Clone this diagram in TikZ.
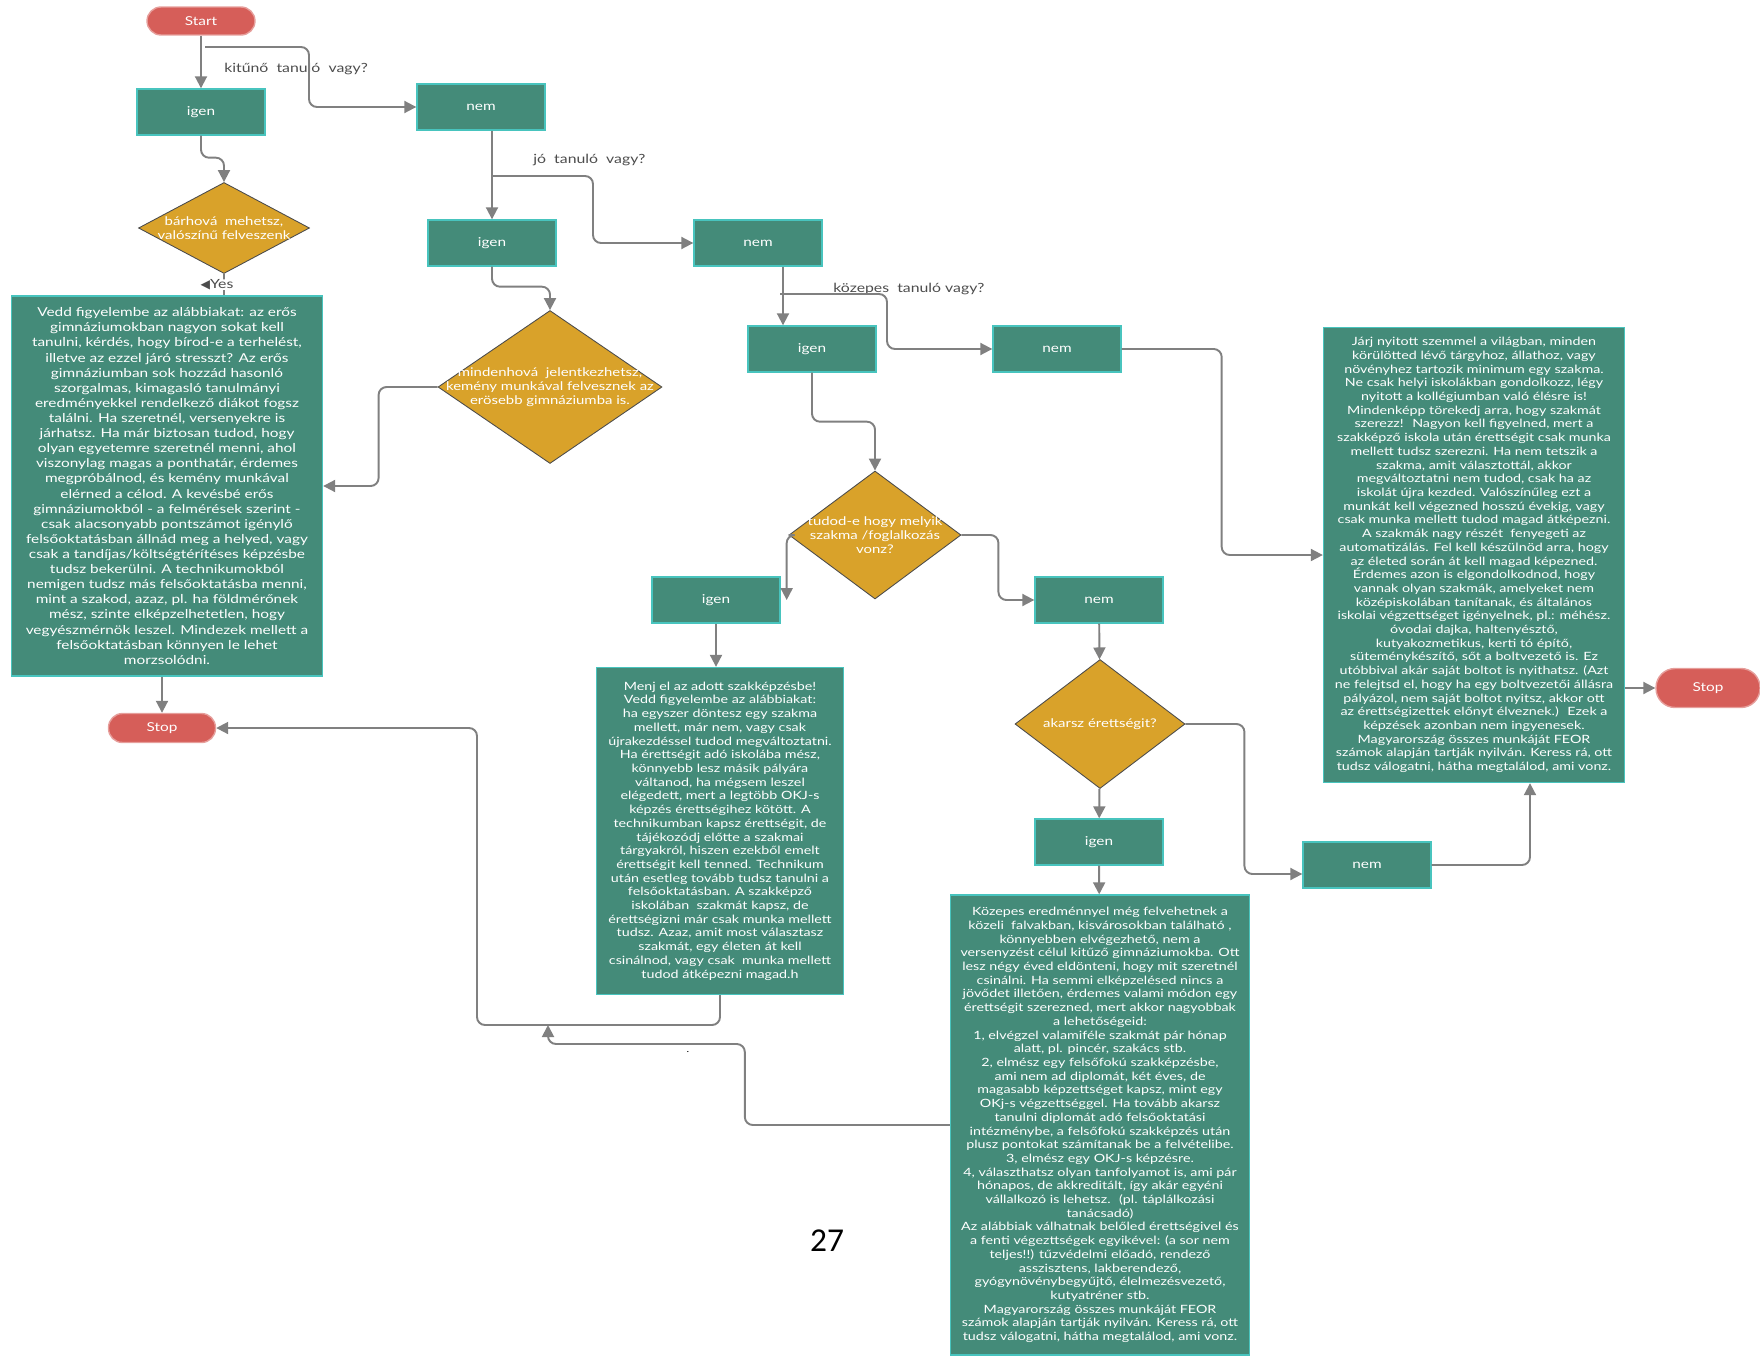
\documentclass[tikz,border=0pt]{standalone}
\usepackage{fontspec}
\setmainfont{Lato}[FakeStretch=1.25]
\newfontfamily\symbfont{DejaVu Sans}
\newfontfamily\pagefont{Carlito}
\usetikzlibrary{shapes.geometric,arrows.meta}

\definecolor{boxgreen}{RGB}{68,139,121}
\definecolor{boxedge}{RGB}{72,196,190}
\definecolor{gold}{RGB}{217,162,42}
\definecolor{stopred}{RGB}{214,94,89}
\definecolor{linegray}{RGB}{128,128,128}

\tikzset{
  answer/.style={rectangle, fill=boxgreen, draw=boxedge, line width=0.8pt,
    minimum width=2.56cm, minimum height=0.92cm, text=white,
    font=\fontsize{7}{8}\selectfont},
  infobox/.style={rectangle, fill=boxgreen, draw=boxedge, line width=0.8pt,
    text=white, align=center, inner sep=1pt, font=\fontsize{6.5}{7.8}\selectfont},
  question/.style={diamond, fill=gold, draw=black!70, line width=0.5pt, inner sep=0pt},
  qtext/.style={text=white, align=center, font=\fontsize{6.8}{7.8}\selectfont},
  terminal/.style={rectangle, rounded corners=0.28cm, fill=stopred,
    draw=stopred!60!white, line width=0.8pt, text=white,
    font=\fontsize{7}{8}\selectfont},
  arr/.style={draw=linegray, line width=1.1pt, rounded corners=0.16cm,
    -{Triangle[length=0.24cm,width=0.24cm]}},
  link/.style={draw=linegray, line width=1.1pt, rounded corners=0.16cm},
  note/.style={text=black!70, inner sep=0pt, font=\fontsize{7.2}{8}\selectfont}
}

\begin{document}
\begin{tikzpicture}[x=0.02cm,y=-0.02cm]
  \useasboundingbox (0,0) rectangle (1760,1355);

  % Start and first question
  \node[terminal, minimum width=2.16cm, minimum height=0.56cm] (start) at (201,21) {Start};
  \node[answer] (igen1) at (201,112) {igen};
  \node[answer] (nem1) at (481,107) {nem};
  \coordinate (k1) at (205,47);
  \node[note, anchor=west] (lbl1) at (224,69) {kitűnő~ tanuló~ vagy?};

  \node[question, minimum width=3.42cm, minimum height=1.82cm] (d1) at (224,228) {};
  \node[qtext] (d1t) at (d1) {bárhová~ mehetsz,\\valószínű felveszenk};

  \node[infobox, minimum width=6.22cm, minimum height=7.6cm, font=\fontsize{7}{8.6}\selectfont] (left) at (167,486)
    {Vedd figyelembe az alábbiakat: az erős\\
     gimnáziumokban nagyon sokat kell\\
     tanulni, kérdés, hogy bírod-e a terhelést,\\
     illetve az ezzel járó stresszt? Az erős\\
     gimnáziumban sok hozzád hasonló\\
     szorgalmas, kimagasló tanulmányi\\
     eredményekkel rendelkező diákot fogsz\\
     találni. Ha szeretnél, versenyekre is\\
     járhatsz. Ha már biztosan tudod, hogy\\
     olyan egyetemre szeretnél menni, ahol\\
     viszonylag magas a ponthatár, érdemes\\
     megpróbálnod, és kemény munkával\\
     elérned a célod. A kevésbé erős\\
     gimnáziumokból - a felmérések szerint -\\
     csak alacsonyabb pontszámot igénylő\\
     felsőoktatásban állnád meg a helyed, vagy\\
     csak a tandíjas/költségtérítéses képzésbe\\
     tudsz bekerülni. A technikumokból\\
     nemigen tudsz más felsőoktatásba menni,\\
     mint a szakod, azaz, pl. ha földmérőnek\\
     mész, szinte elképzelhetetlen, hogy\\
     vegyészmérnök leszel. Mindezek mellett a\\
     felsőoktatásban könnyen le lehet\\
     morzsolódni.};
  \node[terminal, minimum width=2.14cm, minimum height=0.58cm] (stop1) at (162,728) {Stop};

  % Second question
  \node[note, anchor=west] (lbl2) at (533,160) {jó~ tanuló~ vagy?};
  \coordinate (j1) at (492,176);
  \node[answer] (igen2) at (492,243) {igen};
  \node[answer] (nem2) at (758,243) {nem};
  \node[question, minimum width=4.48cm, minimum height=3.06cm] (d2) at (550,387) {};
  \node[qtext] (d2t) at (d2) {mindenhová~ jelentkezhetsz,\\kemény munkával felvesznek az\\erösebb gimnáziumba is.};

  % Third question
  \node[note, anchor=west] (lbl3) at (833,289) {közepes~ tanuló vagy?};
  \coordinate (k3) at (780,294);
  \node[answer] (igen3) at (812,349) {igen};
  \node[answer] (nem3) at (1057,349) {nem};
  \node[question, minimum width=3.44cm, minimum height=2.56cm] (d3) at (875,535) {};
  \node[qtext] (d3t) at (d3) {tudod-e hogy melyik\\szakma /foglalkozás\\vonz?};
  \node[answer] (igen4) at (716,600) {igen};
  \node[answer] (nem4) at (1099,600) {nem};

  \node[infobox, minimum width=4.94cm, minimum height=6.54cm] (mid) at (720,831)
    {Menj el az adott szakképzésbe!\\
     Vedd figyelembe az alábbiakat:\\
     ha egyszer döntesz egy szakma\\
     mellett, már nem, vagy csak\\
     újrakezdéssel tudod megváltoztatni.\\
     Ha érettségit adó iskolába mész,\\
     könnyebb lesz másik pályára\\
     váltanod, ha mégsem leszel\\
     elégedett, mert a legtöbb OKJ-s\\
     képzés érettségihez kötött. A\\
     technikumban kapsz érettségit, de\\
     tájékozódj előtte a szakmai\\
     tárgyakról, hiszen ezekből emelt\\
     érettségit kell tenned. Technikum\\
     után esetleg tovább tudsz tanulni a\\
     felsőoktatásban. A szakképző\\
     iskolában~ szakmát kapsz, de\\
     érettségizni már csak munka mellett\\
     tudsz. Azaz, amit most választasz\\
     szakmát, egy életen át kell\\
     csinálnod, vagy csak~ munka mellett\\
     tudod átképezni magad.h};

  \node[question, minimum width=3.40cm, minimum height=2.58cm] (d4) at (1100,724) {};
  \node[qtext] (d4t) at (d4) {akarsz érettségit?};
  \node[answer] (igen5) at (1099,842) {igen};
  \node[answer] (nem5) at (1367,865) {nem};

  \node[infobox, minimum width=5.98cm, minimum height=9.2cm] (bot) at (1100,1125)
    {Közepes eredménnyel még felvehetnek a\\
     közeli~ falvakban, kisvárosokban található ,\\
     könnyebben elvégezhető, nem a\\
     versenyzést célul kitűző gimnáziumokba. Ott\\
     lesz négy éved eldönteni, hogy mit szeretnél\\
     csinálni. Ha semmi elképzelésed nincs a\\
     jövődet illetően, érdemes valami módon egy\\
     érettségit szerezned, mert akkor nagyobbak\\
     a lehetőségeid:\\
     1, elvégzel valamiféle szakmát pár hónap\\
     alatt, pl. pincér, szakács stb.\\
     2, elmész egy felsőfokú szakképzésbe,\\
     ami nem ad diplomát, két éves, de\\
     magasabb képzettséget kapsz, mint egy\\
     OKj-s végzettséggel. Ha tovább akarsz\\
     tanulni diplomát adó felsőoktatási\\
     intézménybe, a felsőfokú szakképzés után\\
     plusz pontokat számítanak be a felvételibe.\\
     3, elmész egy OKJ-s képzésre.\\
     4, választhatsz olyan tanfolyamot is, ami pár\\
     hónapos, de akkreditált, így akár egyéni\\
     vállalkozó is lehetsz.~ (pl. táplálkozási\\
     tanácsadó)\\
     Az alábbiak válhatnak belőled érettségivel és\\
     a fenti végezttségek egyikével: (a sor nem\\
     teljes!!) tűzvédelmi előadó, rendező\\
     asszisztens, lakberendező,\\
     gyógynövénybegyűjtő, élelmezésvezető,\\
     kutyatréner stb.\\
     Magyarország összes munkáját FEOR\\
     számok alapján tartják nyilván. Keress rá, ott\\
     tudsz válogatni, hátha megtalálod, ami vonz.};

  \node[infobox, minimum width=6.02cm, minimum height=9.1cm] (right) at (1474,555)
    {Járj nyitott szemmel a világban, minden\\
     körülötted lévő tárgyhoz, állathoz, vagy\\
     növényhez tartozik minimum egy szakma.\\
     Ne csak helyi iskolákban gondolkozz, légy\\
     nyitott a kollégiumban való élésre is!\\
     Mindenképp törekedj arra, hogy szakmát\\
     szerezz!~ Nagyon kell figyelned, mert a\\
     szakképző iskola után érettségit csak munka\\
     mellett tudsz szerezni. Ha nem tetszik a\\
     szakma, amit választottál, akkor\\
     megváltoztatni nem tudod, csak ha az\\
     iskolát újra kezded. Valószínűleg ezt a\\
     munkát kell végezned hosszú évekig, vagy\\
     csak munka mellett tudod magad átképezni.\\
     A szakmák nagy részét~ fenyegeti az\\
     automatizálás. Fel kell készülnöd arra, hogy\\
     az életed során át kell magad képezned.\\
     Érdemes azon is elgondolkodnod, hogy\\
     vannak olyan szakmák, amelyeket nem\\
     középiskolában tanítanak, és általános\\
     iskolai végzettséget igényelnek, pl.: méhész.\\
     óvodai dajka, haltenyésztő,\\
     kutyakozmetikus, kerti tó építő,\\
     süteménykészítő, sőt a boltvezető is. Ez\\
     utóbbival akár saját boltot is nyithatsz. (Azt\\
     ne felejtsd el, hogy ha egy boltvezetői állásra\\
     pályázol, nem saját boltot nyitsz, akkor ott\\
     az érettségizettek előnyt élveznek.)~ Ezek a\\
     képzések azonban nem ingyenesek.\\
     Magyarország összes munkáját FEOR\\
     számok alapján tartják nyilván. Keress rá, ott\\
     tudsz válogatni, hátha megtalálod, ami vonz.};
  \node[terminal, rounded corners=0.38cm, minimum width=2.08cm, minimum height=0.78cm] (stop2) at (1708,688) {Stop};

  \coordinate (m1) at (477,1025);
  \coordinate (m2) at (548,1025);
  \node (dot) at (688,1052) {\tiny .};
  \node[font=\pagefont\fontsize{19}{22}\selectfont] (page) at (827,1241) {27};

  % Connectors
  \draw[arr] (start) -- (igen1);
  \draw[arr] (k1) -- ++(104,0) |- (nem1);
  \draw[arr] (igen1.south) -- ++(0,22) -| (d1.north);
  \draw[link] (d1.south) -- (d1.south |- left.north)
    node[midway, fill=white, inner sep=1pt, xshift=-0.14cm, note] (yes) {{\symbfont\scriptsize ◀}Yes};
  \draw[arr] (left.south -| stop1.north) -- (stop1.north);

  \draw[arr] (nem1.south -| igen2.north) -- (igen2.north);
  \draw[arr] (j1) -- ++(101,0) |- (nem2);
  \draw[arr] (igen2.south) -- ++(0,20) -| (d2.north);
  \draw[arr] (d2.west) -- ++(-59,0) |- (left);

  \draw[arr] ([xshift=0.5cm]nem2.south) -- ([xshift=0.5cm]nem2.south |- igen3.north);
  \draw[arr] (k3) -- ++(107,0) |- (nem3);
  \draw[arr] (igen3.south) -- ++(0,49) -| (d3.north);
  \draw[arr] (d3.west) -| ([xshift=0.12cm]igen4.east);
  \draw[arr] (d3.east) -- ++(37,0) |- (nem4);
  \draw[arr] (igen4.south) -- (igen4.south |- mid.north);

  \draw[arr] (nem4) -- (d4);
  \draw[arr] (d4) -- (igen5);
  \draw[arr] (igen5) -- (bot);
  \draw[arr] (d4.east) -- ++(59,0) |- ([yshift=-0.18cm]nem5.west);
  \draw[arr] (nem5.east) -| ([xshift=1.12cm]right.south);
  \draw[arr] (nem3.east) -- ++(100,0) |- (right.west);
  \draw[arr] (right.east |- stop2) -- (stop2);

  \draw[arr] (mid.south) |- (m1) |- (stop1);
  \draw[arr] (bot.west) -- ++(-205,0) -- ++(0,-81) -| (m2);
\end{tikzpicture}
\end{document}
